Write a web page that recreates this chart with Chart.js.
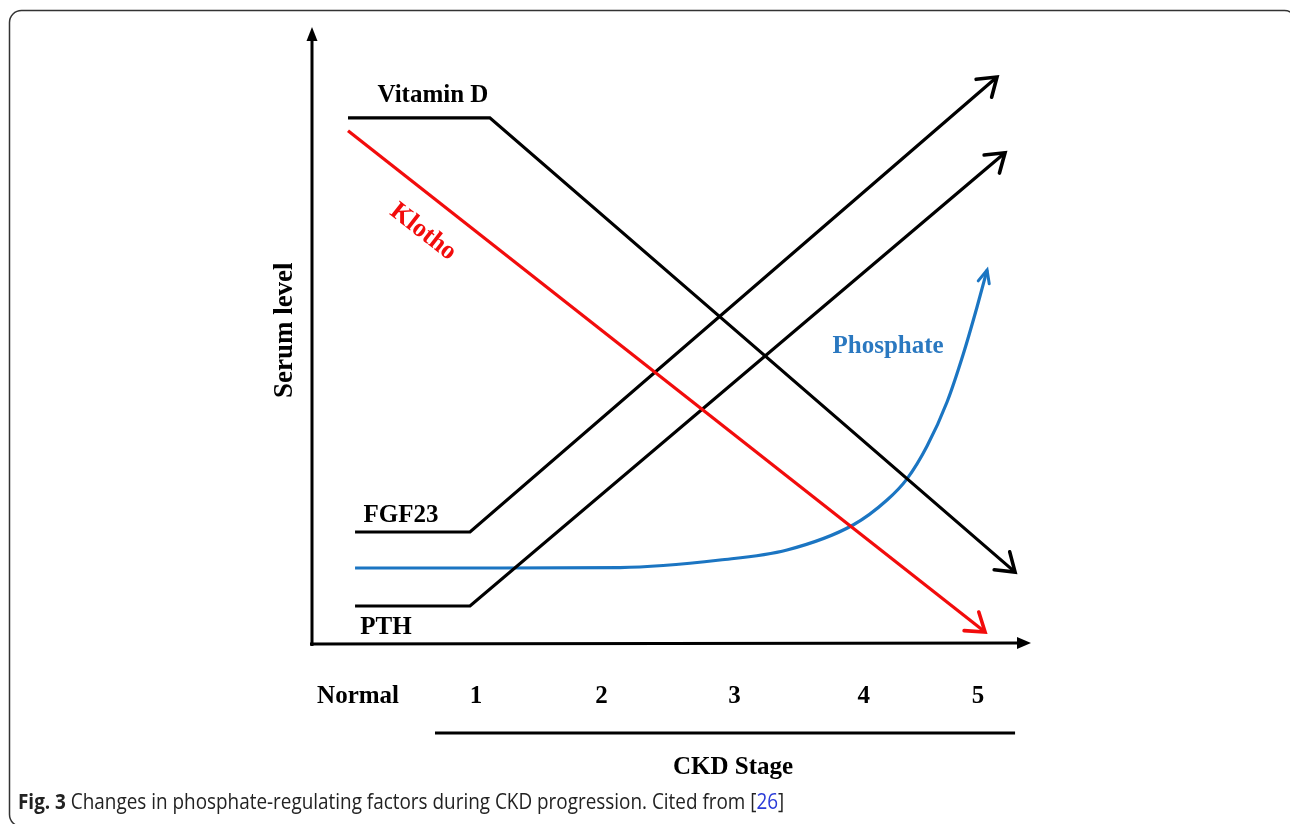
<!DOCTYPE html>
<html><head><meta charset="utf-8">
<script src="https://cdn.jsdelivr.net/npm/chart.js@4/dist/chart.umd.min.js"></script>
<style>html,body{margin:0;padding:0;background:#fff;overflow:hidden}canvas{display:block}</style>
</head><body>
<canvas id="c" width="1290" height="824"></canvas>
<script>
// ---- data (x: CKD stage, Normal = 0; y: serum level, arbitrary units 0-10) ----
const stageLabels = ['Normal', '1', '2', '3', '4', '5'];
const stageTickX = [0.06, 1, 2.0, 3.06, 4.09, 5];
const vitaminD = [{x: -0.02, y: 8.57}, {x: 1.11, y: 8.57}, {x: 5.295, y: 1.17}];
const klotho = [{x: -0.02, y: 8.36}, {x: 5.056, y: 0.195}];
const fgf23 = [{x: 0.036, y: 1.824}, {x: 0.952, y: 1.824}, {x: 5.151, y: 9.235}];
const pth = [{x: 0.036, y: 0.619}, {x: 0.952, y: 0.619}, {x: 5.215, y: 8.0}];
const phosphate = [
  {x: 0.036, y: 1.238}, {x: 1.191, y: 1.238}, {x: 2.147, y: 1.245}, {x: 2.944, y: 1.368},
  {x: 3.478, y: 1.531}, {x: 4.004, y: 1.938}, {x: 4.275, y: 2.345}, {x: 4.434, y: 2.690},
  {x: 4.594, y: 3.225}, {x: 4.753, y: 3.941}, {x: 4.880, y: 4.707}, {x: 4.992, y: 5.489},
  {x: 5.072, y: 6.091}
];

// ---- styling / annotation placement ----
const RED = '#f20c0c', BLUE = '#1b75c2', BLACK = '#000';
const SERIF = 'bold 25px "Liberation Serif", "DejaVu Serif", serif';
const labels = [
  {text: 'Vitamin D', x: 0.657, y: 8.94, color: BLACK, rot: 0, size: 25},
  {text: 'Klotho', x: 0.578, y: 6.71, color: RED, rot: 38, size: 26},
  {text: 'FGF23', x: 0.402, y: 2.10, color: BLACK, rot: 0, size: 25},
  {text: 'PTH', x: 0.283, y: 0.26, color: BLACK, rot: 0, size: 25},
  {text: 'Phosphate', x: 4.283, y: 4.85, color: '#2a78c0', rot: 0, size: 25},
  {text: 'Serum level', x: -0.522, y: 5.11, color: BLACK, rot: -90, size: 27},
  {text: 'CKD Stage', x: 3.048, y: -2.02, color: BLACK, rot: 0, size: 25}
];
const tickLabelY = -0.863;
const stageBar = {x1: 0.673, x2: 5.295, y: -1.45};

function ds(label, data, color, curved) {
  return {label, data, borderColor: color, backgroundColor: color, borderWidth: 3.2,
    showLine: true, pointRadius: 0, pointHoverRadius: 0, clip: false,
    tension: curved ? 0.4 : 0, cubicInterpolationMode: curved ? 'monotone' : 'default'};
}

const drawPlugin = {
  id: 'schematic',
  afterDatasetsDraw(chart) {
    const ctx = chart.ctx, xs = chart.scales.x, ys = chart.scales.y, ca = chart.chartArea;
    const X = v => xs.getPixelForValue(v), Y = v => ys.getPixelForValue(v);
    ctx.save();
    // axes
    ctx.strokeStyle = BLACK; ctx.fillStyle = BLACK; ctx.lineWidth = 3; ctx.lineCap = 'butt';
    ctx.beginPath(); ctx.moveTo(ca.left, ca.bottom + 2); ctx.lineTo(ca.left, ca.top + 10); ctx.stroke();
    ctx.beginPath();
    ctx.moveTo(ca.left, ca.top - 3); ctx.lineTo(ca.left - 5.5, ca.top + 11); ctx.lineTo(ca.left + 5.5, ca.top + 11); ctx.closePath(); ctx.fill();
    ctx.beginPath(); ctx.moveTo(ca.left - 2, ca.bottom); ctx.lineTo(ca.right - 10, ca.bottom - 1); ctx.stroke();
    ctx.beginPath(); ctx.moveTo(ca.right + 1, ca.bottom - 1); ctx.lineTo(ca.right - 13, ca.bottom - 7); ctx.lineTo(ca.right - 13, ca.bottom + 5); ctx.closePath(); ctx.fill();

    // arrowheads at line ends
    chart.data.datasets.forEach((d, i) => {
      const pts = chart.getDatasetMeta(i).data;
      const p = pts[pts.length - 1];
      let q = pts[pts.length - 2];
      let qx = q.x, qy = q.y;
      if (d.tension > 0 && p.cp1x !== undefined) { qx = p.cp1x; qy = p.cp1y; }
      const ang = Math.atan2(p.y - qy, p.x - qx);
      const len = d.tension > 0 ? 14 : 21, spread = d.tension > 0 ? 0.42 : 0.6;
      ctx.strokeStyle = d.borderColor; ctx.lineWidth = d.tension > 0 ? 3 : 3.6; ctx.lineCap = 'round'; ctx.lineJoin = 'miter';
      ctx.beginPath();
      ctx.moveTo(p.x - len * Math.cos(ang - spread), p.y - len * Math.sin(ang - spread));
      ctx.lineTo(p.x, p.y);
      ctx.lineTo(p.x - len * Math.cos(ang + spread), p.y - len * Math.sin(ang + spread));
      ctx.stroke();
    });

    // text labels
    ctx.textAlign = 'center'; ctx.textBaseline = 'middle';
    labels.forEach(l => {
      ctx.save(); ctx.translate(X(l.x), Y(l.y)); ctx.rotate(l.rot * Math.PI / 180);
      ctx.font = 'bold ' + l.size + 'px "Liberation Serif", "DejaVu Serif", serif';
      ctx.fillStyle = l.color; ctx.fillText(l.text, 0, 0); ctx.restore();
    });
    ctx.font = SERIF; ctx.fillStyle = BLACK;
    stageLabels.forEach((t, i) => ctx.fillText(t, X(stageTickX[i]), Y(tickLabelY)));
    ctx.lineWidth = 3; ctx.lineCap = 'butt'; ctx.strokeStyle = BLACK;
    ctx.beginPath(); ctx.moveTo(X(stageBar.x1), Y(stageBar.y)); ctx.lineTo(X(stageBar.x2), Y(stageBar.y)); ctx.stroke();

    // frame
    ctx.strokeStyle = '#333'; ctx.lineWidth = 1.5;
    ctx.beginPath(); ctx.roundRect(9.5, 10.5, 1287, 816, 12); ctx.stroke();

    // caption (slightly condensed)
    ctx.save();
    ctx.translate(18, 809); ctx.scale(0.9, 1);
    ctx.textAlign = 'left'; ctx.textBaseline = 'alphabetic';
    let cx = 0;
    const parts = [
      {t: 'Fig. 3', f: 'bold 21px "Open Sans", sans-serif', c: '#222'},
      {t: ' Changes in phosphate-regulating factors during CKD progression. Cited from [', f: '21px "Open Sans", sans-serif', c: '#222'},
      {t: '26', f: '21px "Open Sans", sans-serif', c: '#2a3bd8'},
      {t: ']', f: '21px "Open Sans", sans-serif', c: '#222'}
    ];
    parts.forEach(p => { ctx.font = p.f; ctx.fillStyle = p.c; ctx.fillText(p.t, cx, 0); cx += ctx.measureText(p.t).width; });
    ctx.restore();
    ctx.restore();
  }
};

new Chart(document.getElementById('c'), {
  type: 'scatter',
  data: {datasets: [
    ds('Vitamin D', vitaminD, BLACK, false),
    ds('Klotho', klotho, RED, false),
    ds('FGF23', fgf23, BLACK, false),
    ds('PTH', pth, BLACK, false),
    ds('Phosphate', phosphate, BLUE, true)
  ]},
  options: {
    responsive: false, animation: false, devicePixelRatio: 1,
    layout: {padding: {left: 312, right: 260, top: 30, bottom: 180}},
    plugins: {legend: {display: false}, tooltip: {enabled: false}},
    scales: {
      x: {type: 'linear', min: -0.307, max: 5.414, display: false},
      y: {type: 'linear', min: 0, max: 10, display: false}
    }
  },
  plugins: [drawPlugin]
});
</script>
</body></html>
